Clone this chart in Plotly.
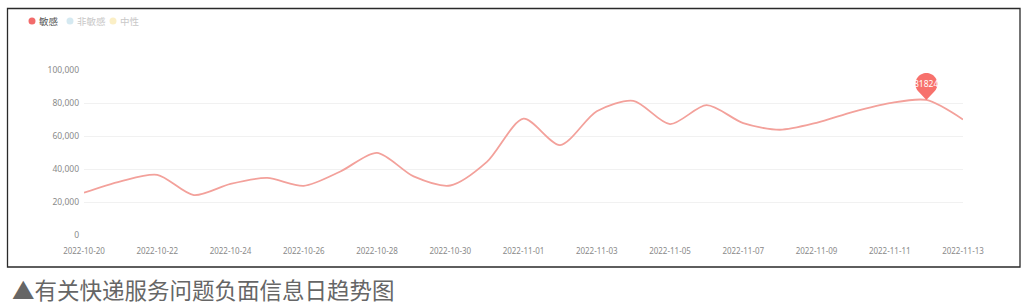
import math
import plotly.graph_objects as go

dates = ["2022-10-20", "2022-10-21", "2022-10-22", "2022-10-23", "2022-10-24",
         "2022-10-25", "2022-10-26", "2022-10-27", "2022-10-28", "2022-10-29",
         "2022-10-30", "2022-10-31", "2022-11-01", "2022-11-02", "2022-11-03",
         "2022-11-04", "2022-11-05", "2022-11-06", "2022-11-07", "2022-11-08",
         "2022-11-09", "2022-11-10", "2022-11-11", "2022-11-12", "2022-11-13"]
sensitive = [25600, 32500, 36500, 24200, 31000, 34600, 29800, 38500, 49800, 35500,
             30000, 44300, 70500, 54500, 75000, 81300, 67200, 78700, 67800, 63800,
             68000, 74600, 79900, 81824, 70000]
tick_dates = dates[::2]
y_ticks = [0, 20000, 40000, 60000, 80000, 100000]
legend_names = ["敏感", "非敏感", "中性"]
caption = "▲有关快递服务问题负面信息日趋势图"

W, H = 1029, 306
L, R, T, B = 84, 66, 70, 71
PW, PH = W - L - R, H - T - B


def px_x(x):
    return (x - L) / PW


def px_y(y):
    return (H - B - y) / PH


fig = go.Figure()
fig.add_trace(go.Scatter(
    x=dates, y=sensitive, mode="lines", name=legend_names[0],
    line=dict(color="#f3a19b", width=1.8, shape="spline", smoothing=0.8),
    showlegend=False, hoverinfo="x+y"))

# max point pin
imax = max(range(len(sensitive)), key=lambda i: sensitive[i])
c, r = 16.0, 11.0
th = math.acos(r / c)
pts = []
start = -math.pi / 2 - th
end = -math.pi / 2 + th - 2 * math.pi
n = 40
for k in range(n + 1):
    a = start + (end - start) * k / n
    pts.append((r * math.cos(a), c + r * math.sin(a)))
path = "M 0,0 " + " ".join("L %.2f,%.2f" % p for p in pts) + " Z"
shapes = [dict(type="path", xref="x", yref="y", xsizemode="pixel", ysizemode="pixel",
               xanchor=dates[imax], yanchor=sensitive[imax], path=path,
               fillcolor="#f7716c", line=dict(width=0), layer="above")]

# border
shapes.append(dict(type="rect", xref="paper", yref="paper",
                   x0=px_x(7.5), x1=px_x(1020), y0=px_y(267), y1=px_y(8.5),
                   line=dict(color="#2a2a2a", width=1.3)))

legend_colors = ["#f26b6b", "#d5e9f1", "#fbefc6"]
legend_text_colors = ["#555555", "#c8c8c8", "#c8c8c8"]
legend_dot_x = [32, 70, 113]
legend_text_x = [37, 75, 118]
annotations = []
for name, col, tcol, dx, tx in zip(legend_names, legend_colors, legend_text_colors,
                                   legend_dot_x, legend_text_x):
    shapes.append(dict(type="circle", xref="paper", yref="paper", xsizemode="pixel",
                       ysizemode="pixel", xanchor=px_x(dx), yanchor=px_y(21),
                       x0=-3.5, x1=3.5, y0=-3.5, y1=3.5, fillcolor=col,
                       line=dict(width=0)))
    annotations.append(dict(text=name, xref="paper", yref="paper", x=px_x(tx),
                            y=px_y(21), xanchor="left", yanchor="middle", showarrow=False,
                            font=dict(size=9.5, color=tcol, family="Noto Sans CJK SC")))

annotations.append(dict(text=str(sensitive[imax]), x=dates[imax], y=sensitive[imax],
                        xref="x", yref="y", yshift=16, showarrow=False,
                        xanchor="center", yanchor="middle",
                        font=dict(size=8.5, color="white", family="Noto Sans")))

annotations.append(dict(text=caption, xref="paper", yref="paper", x=px_x(10),
                        y=px_y(289), xanchor="left", yanchor="middle", showarrow=False,
                        font=dict(size=22.5, color="#666666", family="Noto Sans CJK SC")))

fig.update_layout(
    width=W, height=H, autosize=False,
    margin=dict(l=L, r=R, t=T, b=B, pad=0),
    paper_bgcolor="white", plot_bgcolor="white",
    shapes=shapes, annotations=annotations,
    showlegend=False,
    xaxis=dict(type="category", range=[0, len(dates) - 1], tickmode="array",
               tickvals=tick_dates, ticktext=tick_dates, showgrid=False,
               showline=False, zeroline=False, ticks="", ticklabelstandoff=10,
               tickfont=dict(size=8, color="#8a8a8a", family="Noto Sans")),
    yaxis=dict(range=[0, 100000], tickmode="array", tickvals=y_ticks,
               tickformat=",", showgrid=True, gridcolor="#f1f1f1", gridwidth=1,
               zeroline=False, showline=False, ticks="", ticklabelstandoff=4,
               tickfont=dict(size=8.5, color="#8a8a8a", family="Noto Sans")),
)

fig.write_html("out.html")
